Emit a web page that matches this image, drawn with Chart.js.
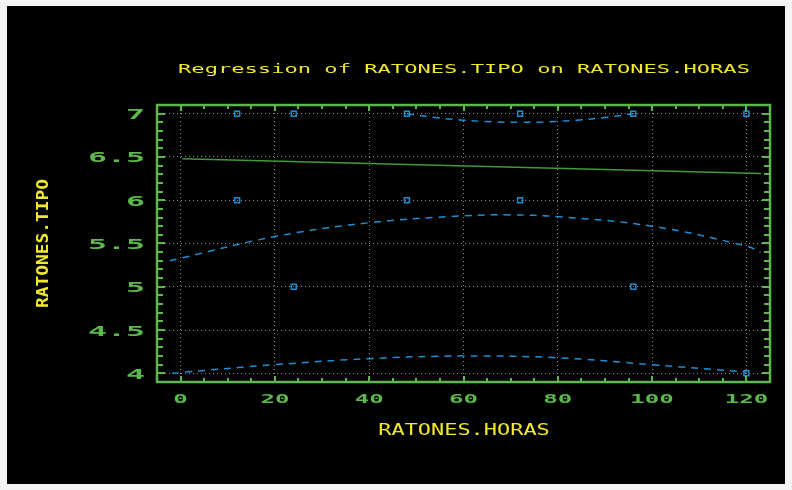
<!DOCTYPE html>
<html>
<head>
<meta charset="utf-8">
<script src="https://cdn.jsdelivr.net/npm/chart.js@4.4.0/dist/chart.umd.min.js"></script>
<style>
  html, body { margin: 0; padding: 0; background: #f4f4f4; }
  #fondo { position: absolute; left: 7px; top: 6px; width: 778px; height: 478px; background: #000; }
  #grafica { position: absolute; left: 0; top: 0; }
</style>
</head>
<body>
<div id="fondo"></div>
<canvas id="grafica" width="792" height="490"></canvas>
<script>
// observaciones
const obsHoras = [12, 24, 48, 72, 96, 120, 12, 48, 72, 24, 96, 120];
const obsTipo = [7, 7, 7, 7, 7, 7, 6, 6, 6, 5, 5, 4];

// recta de regresion
const ajusteHoras = [0.4, 123.1];
const ajusteTipo = [6.48, 6.31];

// bandas
const bandaAltaHoras = [48, 54, 60, 66, 72, 78, 84, 90, 96];
const bandaAltaTipo = [7.0, 6.955, 6.925, 6.906, 6.9, 6.906, 6.925, 6.955, 7.0];

const bandaMediaHoras = [-2.3, 0, 20, 40, 60, 70, 80, 100, 120, 123];
const bandaMediaTipo = [5.3, 5.33, 5.58, 5.74, 5.82, 5.83, 5.81, 5.7, 5.47, 5.4];

const bandaBajaHoras = [-1.8, 0, 20, 40, 60, 80, 100, 120];
const bandaBajaTipo = [4.0, 4.01, 4.1, 4.17, 4.2, 4.18, 4.1, 4.015];

// ticks
const xTicks = [0, 20, 40, 60, 80, 100, 120];
const yTicks = [4, 4.5, 5, 5.5, 6, 6.5, 7];

const AZUL = "#1f8fd0";
const VERDE = "#5cb84a";
const AMARILLO = "#f0e82a";
const MONO = "'DejaVu Sans Mono', 'Liberation Mono', monospace";

const pares = (xs, ys) => xs.map((x, i) => ({ x: x, y: ys[i] }));

// texto ensanchado como la fuente del original
function texto(ctx, s, x, y, font, celda, rot) {
    ctx.save();
    ctx.font = font;
    const sx = celda / ctx.measureText("0").width;
    ctx.translate(x, y);
    if (rot) ctx.rotate(-Math.PI / 2);
    ctx.scale(sx, 1);
    ctx.textAlign = "center";
    ctx.textBaseline = "middle";
    ctx.fillText(s, 0, 0);
    ctx.restore();
}

const marco = {
    id: "marco",
    afterDraw(chart) {
        const { ctx, chartArea: a, scales } = chart;
        const sx = scales.x, sy = scales.y;
        ctx.save();
        ctx.strokeStyle = VERDE;
        ctx.lineWidth = 2.5;
        ctx.strokeRect(a.left, a.top, a.right - a.left, a.bottom - a.top);

        ctx.lineWidth = 2;
        ctx.beginPath();
        for (let v = 0; v <= 120; v += 5) {
            const px = Math.round(sx.getPixelForValue(v));
            const largo = v % 20 === 0 ? 6 : 4;
            ctx.moveTo(px, a.top); ctx.lineTo(px, a.top + largo);
            ctx.moveTo(px, a.bottom); ctx.lineTo(px, a.bottom - largo);
        }
        for (let k = 40; k <= 70; k++) {
            const py = Math.round(sy.getPixelForValue(k / 10));
            const largo = k % 5 === 0 ? 8 : 6;
            ctx.moveTo(a.left, py); ctx.lineTo(a.left + largo, py);
            ctx.moveTo(a.right, py); ctx.lineTo(a.right - largo, py);
        }
        ctx.stroke();

        ctx.fillStyle = VERDE;
        xTicks.forEach(v => {
            texto(ctx, String(v), sx.getPixelForValue(v), 400, "bold 13px " + MONO, 14.5);
        });
        yTicks.forEach(v => {
            const s = String(v);
            const ancho = s.length * 19;
            texto(ctx, s, 145 - ancho / 2, sy.getPixelForValue(v) + 2, "bold 13.5px " + MONO, 19);
        });

        ctx.fillStyle = AMARILLO;
        texto(ctx, "Regression of RATONES.TIPO on RATONES.HORAS", 464, 70, "13px " + MONO, 13.3);
        texto(ctx, "RATONES.HORAS", 464, 431, "15px " + MONO, 13.2);
        texto(ctx, "RATONES.TIPO", 44, 243.5, "bold 16px " + MONO, 10.75, true);
        ctx.restore();
    }
};

const curva = (datos) => ({
    type: "line",
    data: datos,
    borderColor: AZUL,
    borderWidth: 1.5,
    borderDash: [7, 6],
    pointRadius: 0,
    tension: 0.4,
    fill: false
});

new Chart(document.getElementById("grafica"), {
    type: "scatter",
    data: {
        datasets: [
            {
                label: "RATONES.TIPO",
                data: pares(obsHoras, obsTipo),
                pointStyle: "rect",
                pointRadius: 3.5,
                pointBorderWidth: 1.5,
                pointBorderColor: AZUL,
                pointBackgroundColor: "rgba(0,0,0,0)"
            },
            {
                type: "line",
                label: "ajuste",
                data: pares(ajusteHoras, ajusteTipo),
                borderColor: "#3f9a3a",
                borderWidth: 1.5,
                pointRadius: 0,
                fill: false
            },
            curva(pares(bandaAltaHoras, bandaAltaTipo)),
            curva(pares(bandaMediaHoras, bandaMediaTipo)),
            curva(pares(bandaBajaHoras, bandaBajaTipo))
        ]
    },
    options: {
        responsive: false,
        animation: false,
        events: [],
        layout: { padding: { left: 157, top: 105, right: 22, bottom: 108 } },
        plugins: { legend: { display: false }, title: { display: false }, tooltip: { enabled: false } },
        scales: {
            x: {
                type: "linear",
                min: -5,
                max: 125,
                afterBuildTicks: s => { s.ticks = xTicks.map(v => ({ value: v })); },
                ticks: { display: false },
                grid: { color: "#8c8ca4", lineWidth: 1, drawTicks: false },
                border: { display: false, dash: [1, 3] }
            },
            y: {
                type: "linear",
                min: 3.9,
                max: 7.1,
                afterBuildTicks: s => { s.ticks = yTicks.map(v => ({ value: v })); },
                ticks: { display: false },
                grid: { color: "#8c8ca4", lineWidth: 1, drawTicks: false },
                border: { display: false, dash: [1, 3] }
            }
        }
    },
    plugins: [marco]
});
</script>
</body>
</html>
